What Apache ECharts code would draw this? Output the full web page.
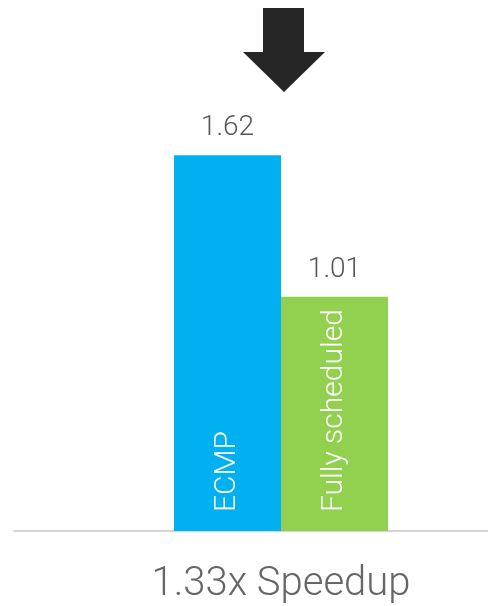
<!DOCTYPE html>
<html>
<head>
<meta charset="utf-8">
<script src="https://cdn.jsdelivr.net/npm/echarts@6/dist/echarts.min.js"></script>
<style>html,body{margin:0;padding:0;background:#fff}#c{width:488px;height:606px}</style>
</head>
<body>
<div id="c"></div>
<script>
var categories = ['1.33x Speedup'];
var seriesNames = ['ECMP', 'Fully scheduled'];
var ecmpValues = [1.62];
var scheduledValues = [1.01];
var colors = ['#00B0F0', '#92D050'];

var FONT = 'Roboto';
var chart = echarts.init(document.getElementById('c'), null, {renderer: 'canvas'});

function barSeries(name, data, color, stack) {
  return {
    name: name, type: 'bar', stack: stack, data: data,
    barWidth: 107, barGap: '0%',
    itemStyle: {color: color},
    label: {
      show: true, position: 'insideBottom', rotate: 90, align: 'left', verticalAlign: 'middle',
      distance: 19, formatter: name, color: '#fff', fontSize: 30, fontFamily: FONT, fontWeight: 300
    }
  };
}
function topLabelSeries(name, data, stack) {
  return {
    name: name + ' value', type: 'bar', stack: stack,
    data: data.map(function () { return 0; }),
    barWidth: 107, barGap: '0%',
    itemStyle: {color: 'rgba(0,0,0,0)'},
    label: {
      show: true, position: 'top', distance: 13,
      formatter: function (p) { return data[p.dataIndex].toFixed(2); },
      color: '#555', fontSize: 28, fontFamily: FONT, fontWeight: 300
    }
  };
}

chart.setOption({
  animation: false,
  grid: {left: 14, right: -60, top: 67, bottom: 75, outerBoundsMode: 'none', containLabel: false},
  xAxis: {
    type: 'category', data: categories,
    axisLine: {show: true, lineStyle: {color: '#d4d4d4', width: 2}},
    axisTick: {show: false},
    axisLabel: {color: '#666', fontSize: 40, fontFamily: FONT, fontWeight: 300, margin: 34}
  },
  yAxis: {type: 'value', min: 0, max: 2, show: false, splitLine: {show: false}},
  series: [
    barSeries(seriesNames[0], ecmpValues, colors[0], 'a'),
    topLabelSeries(seriesNames[0], ecmpValues, 'a'),
    barSeries(seriesNames[1], scheduledValues, colors[1], 'b'),
    topLabelSeries(seriesNames[1], scheduledValues, 'b')
  ],
  graphic: [{
    type: 'polygon',
    shape: {points: [[263, 8], [304, 8], [304, 52], [325, 52], [284, 92], [243, 52], [263, 52]]},
    style: {fill: '#262626'}
  }]
});
</script>
</body>
</html>
